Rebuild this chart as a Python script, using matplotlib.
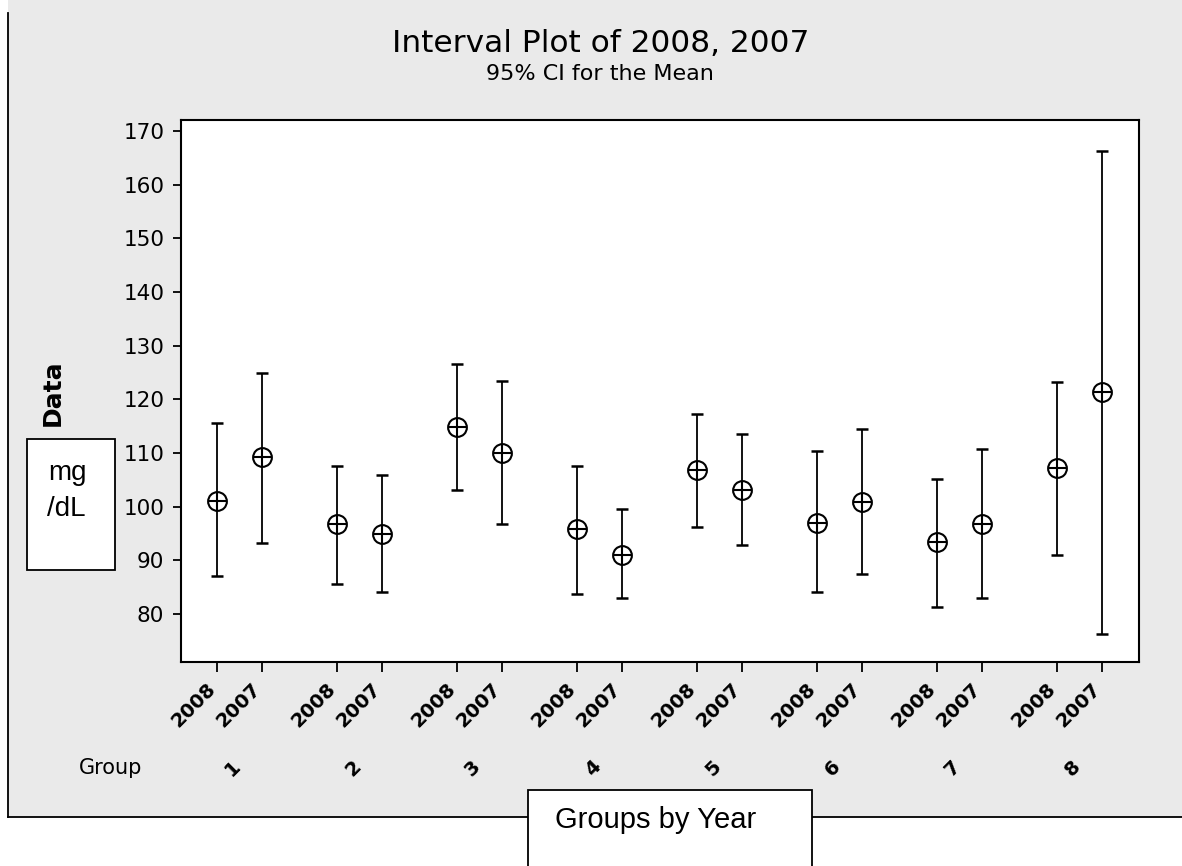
import matplotlib.pyplot as plt
import matplotlib.transforms as mtransforms
from matplotlib.patches import Rectangle
from matplotlib.lines import Line2D
import numpy as np

# data (mean and 95% CI bounds), mg/dL
groups = ['1', '2', '3', '4', '5', '6', '7', '8']
years = ['2008', '2007']
mean_2008 = [101.0, 96.7, 114.9, 95.9, 106.8, 97.0, 93.5, 107.2]
low_2008 = [87.0, 85.6, 103.1, 83.7, 96.3, 84.1, 81.3, 91.0]
high_2008 = [115.6, 107.6, 126.5, 107.6, 117.2, 110.3, 105.1, 123.2]
mean_2007 = [109.2, 95.0, 110.0, 91.0, 103.1, 100.8, 96.7, 121.4]
low_2007 = [93.3, 84.1, 96.7, 82.9, 92.9, 87.4, 82.9, 76.3]
high_2007 = [124.9, 105.9, 123.4, 99.5, 113.5, 114.4, 110.7, 166.2]
yticks = [80, 90, 100, 110, 120, 130, 140, 150, 160, 170]

W, H = 1182, 866
fig = plt.figure(figsize=(W / 100, H / 100), dpi=100)
fig.patch.set_facecolor('white')


def px(x, y):
    return x / W, 1 - y / H


# gray panel with left and bottom border
x0, y0 = px(8, 817)
fig.patches.append(Rectangle((x0, y0), 1 - x0, 1 - y0, transform=fig.transFigure,
                             facecolor='#eaeaea', edgecolor='none', zorder=-5))
fig.lines.append(Line2D([x0, x0], [y0, 1 - 13 / H], transform=fig.transFigure, color='black', lw=1.3))
fig.lines.append(Line2D([x0, 1], [y0, y0], transform=fig.transFigure, color='black', lw=1.3))

l, t = px(181, 120)
r, b = px(1139, 662)
ax = fig.add_axes([l, b, r - l, t - b])
ax.set_facecolor('white')
ax.set_zorder(1)

g = np.arange(len(groups))
off = 0.375
for xs, m, lo, hi in [(g, mean_2008, low_2008, high_2008),
                      (g + off, mean_2007, low_2007, high_2007)]:
    m = np.array(m)
    err = [m - np.array(lo), np.array(hi) - m]
    ax.errorbar(xs, m, yerr=err, fmt='none', ecolor='black', elinewidth=1.3,
                capsize=4.3, capthick=1.8)
    ax.plot(xs, m, 'o', ms=13.5, mfc='white', mec='black', mew=1.5)
    ax.plot(xs, m, '+', ms=13.5, mec='black', mew=1.5)

ax.set_xlim(-0.3, 7.683)
ax.set_ylim(71.06, 172.05)
ax.set_yticks(yticks)
ax.tick_params(axis='y', labelsize=15.5, length=6, width=1.3, pad=6)

xpos = np.column_stack([g, g + off]).ravel()
xlabels = years * len(groups)
ax.set_xticks(xpos)
ax.set_xticklabels(xlabels, rotation=45, ha='right', va='center',
                   rotation_mode='anchor', fontsize=14, fontweight='bold')
ax.tick_params(axis='x', length=7, width=1.3, pad=10)
shift = mtransforms.ScaledTranslation(-4 / 100, 0, fig.dpi_scale_trans)
for lab in ax.get_xticklabels():
    lab.set_transform(lab.get_transform() + shift)
for s in ax.spines.values():
    s.set_linewidth(1.5)

# group numbers under each pair
trans = mtransforms.blended_transform_factory(ax.transData, ax.transAxes)
for i, name in enumerate(groups):
    ax.text(g[i] + 0.133, -0.1956, name, transform=trans, rotation=45,
            ha='center', va='center', fontsize=14, fontweight='bold')
fig.text(*px(111, 768), 'Group', ha='center', va='center', fontsize=15)

fig.text(*px(601, 52), 'Interval Plot of 2008, 2007', ha='center', va='baseline', fontsize=22.5)
fig.text(*px(600, 80), '95% CI for the Mean', ha='center', va='baseline', fontsize=16)
fig.text(*px(53, 393), 'Data', rotation=90, ha='center', va='center',
         fontsize=18, fontweight='bold')

# unit box on the left
bx, by = px(27, 570)
fig.patches.append(Rectangle((bx, by), (115 - 27) / W, (570 - 439) / H,
                             transform=fig.transFigure, facecolor='white',
                             edgecolor='black', lw=1.3, zorder=3))
fig.text(*px(67, 480), 'mg', ha='center', va='baseline', fontsize=20,
         family='Liberation Sans', zorder=4)
fig.text(*px(66, 516), '/dL', ha='center', va='baseline', fontsize=20,
         family='Liberation Sans', zorder=4)

# x axis caption box at the bottom
cx, cy = px(528, 880)
fig.patches.append(Rectangle((cx, cy), (812 - 528) / W, (880 - 790) / H,
                             transform=fig.transFigure, facecolor='white',
                             edgecolor='black', lw=1.3, zorder=3, clip_on=False))
fig.text(*px(656, 828), 'Groups by Year', ha='center', va='baseline', fontsize=21,
         family='Liberation Sans', zorder=4)

fig.savefig('out.png', dpi=100)
